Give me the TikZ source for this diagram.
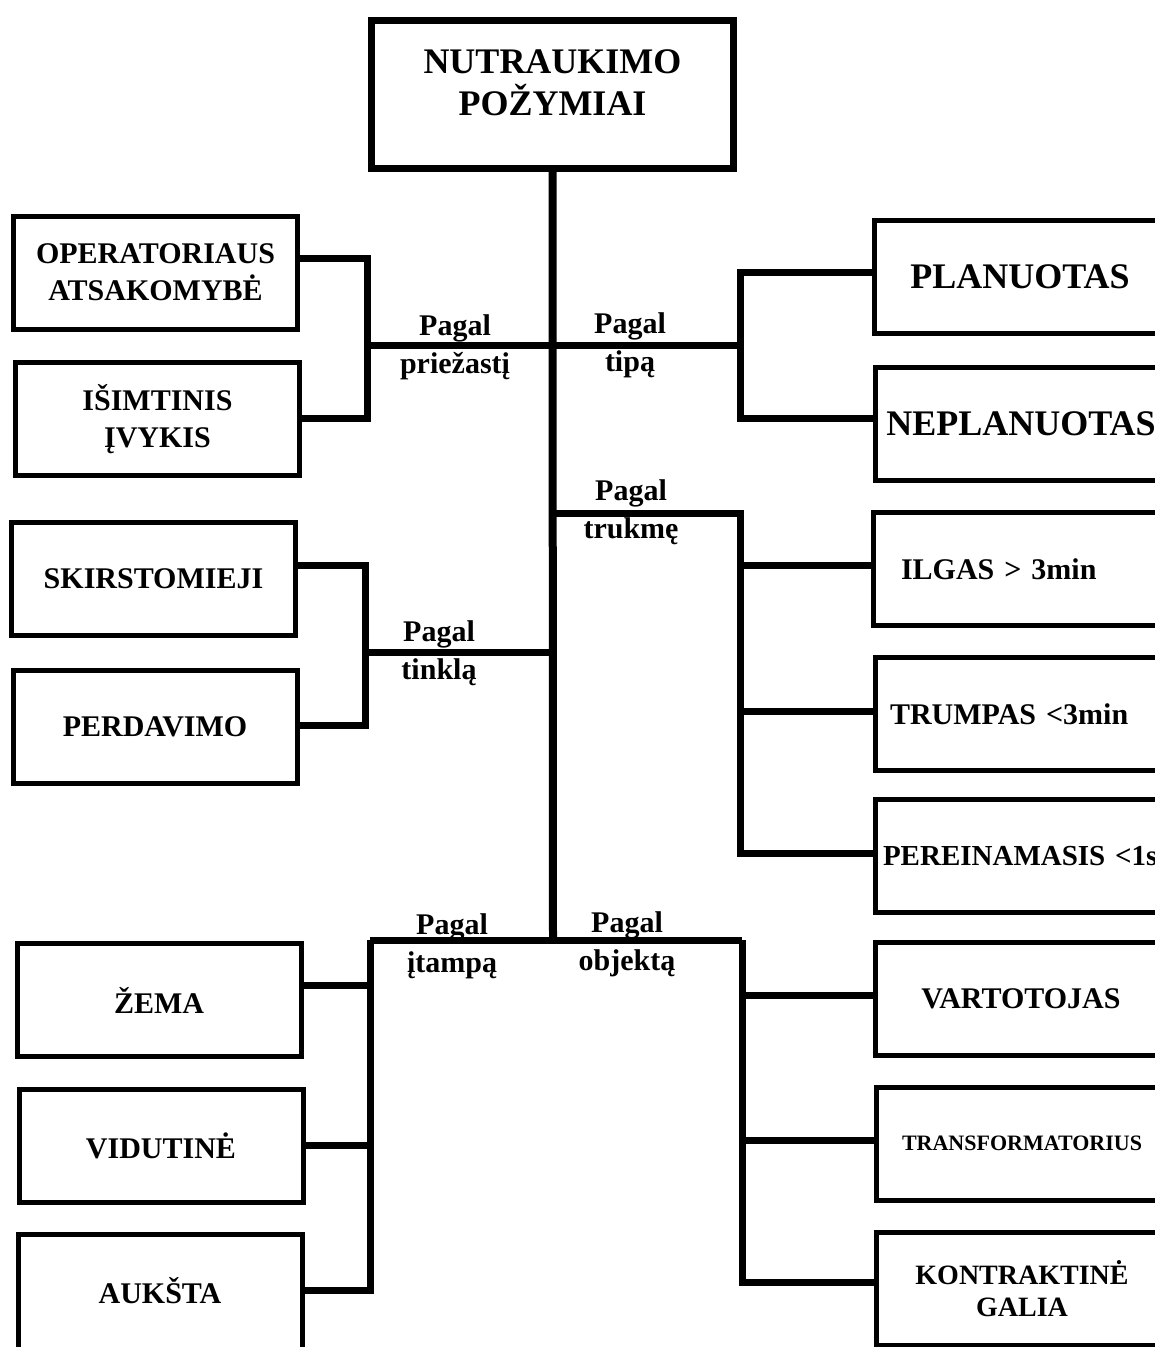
\documentclass[tikz,border=0pt]{standalone}
\usepackage{fontspec}
\setmainfont{Liberation Serif}
\newcommand\fsz[2]{\fontsize{#1}{#2}\selectfont\bfseries}
\begin{document}
\begin{tikzpicture}[x=1pt,y=-1pt,
  box/.style={draw, line width=5pt, minimum width=284pt, minimum height=113pt, inner sep=0pt, align=center, font=\fsz{30}{37}},
  rbox/.style={box, minimum width=292pt},
  lbl/.style={inner sep=0pt, align=center, font=\fsz{30}{38}},
  conn/.style={line width=7pt, line join=miter},
  trunk/.style={line width=8pt}]
\useasboundingbox (0,0) rectangle (1155,1347);
\fill[white] (0,0) rectangle (1155,1347);
\clip (0,0) rectangle (1155,1347);

% top
\node[draw, line width=7pt, minimum width=362pt, minimum height=148pt, align=center, text depth=23pt, font=\fsz{36}{42}] (top) at (552.5,94.5) {NUTRAUKIMO\\POŽYMIAI};

% left boxes
\node[box] (op) at (155.5,272.5) {OPERATORIAUS\\ATSAKOMYBĖ};
\node[box] (isim) at (157.5,419) {IŠIMTINIS\\ĮVYKIS};
\node[box] (skir) at (153.5,579) {SKIRSTOMIEJI};
\node[box] (perd) at (155,726.5) {PERDAVIMO};
\node[box] (zema) at (159,1000) {ŽEMA};
\node[box] (vid) at (161,1145.5) {VIDUTINĖ};
\node[box, minimum height=136pt, text depth=24pt] (auk) at (160,1302) {AUKŠTA};

% right boxes
\node[rbox, font=\fsz{36}{42}] (plan) at (1020,276.5) {PLANUOTAS};
\node[rbox, font=\fsz{36}{42}] (nepl) at (1021,423.5) {\mbox{NEPLANUOTAS}};
\node[rbox, align=left, inner xsep=27.5pt, text width=237pt] (ilgas) at (1019.5,569) {\mbox{ILGAS > 3min}};
\node[rbox, align=left, inner xsep=14.5pt, text width=263pt] (trum) at (1021.5,714) {\mbox{TRUMPAS <3min}};
\node[rbox, align=left, inner xsep=7.5pt, text width=277pt, font=\fsz{29}{34}] (per) at (1021.5,856) {\mbox{PEREINAMASIS <1s}};
\node[rbox] (vart) at (1021,998.5) {VARTOTOJAS};
\node[rbox, font=\fsz{22}{27}] (trans) at (1022,1143.5) {TRANSFORMATORIUS};
\node[rbox, font=\fsz{28}{32}] (kont) at (1022,1289) {KONTRAKTINĖ\\GALIA};

% junction coordinates
\coordinate (jA) at (553,345);
\coordinate (bA) at (367,345);
\coordinate (bB) at (740,345);
\coordinate (jC) at (553,513);
\coordinate (bC) at (740,513);
\coordinate (jD) at (553,652);
\coordinate (bD) at (365,652);
\coordinate (jE) at (553,940);
\coordinate (bE1) at (370,940);
\coordinate (bE2) at (742,940);

% trunk
\draw[trunk] (top.south) -- (jE);

% pagal priezasti / tipa
\draw[conn] (bA) -- (bB);
\draw[conn] (op.east |- 0,258) -| (bA) |- (isim.east |- 0,418);
\draw[conn] (plan.west |- 0,272) -| (bB) |- (nepl.west |- 0,418);

% pagal trukme
\draw[conn] (jC) -- (bC) |- (per.west |- 0,853);
\draw[conn] (ilgas.west |- 0,565) -| (bC);
\draw[conn] (trum.west |- 0,711) -| (bC);

% pagal tinkla
\draw[conn] (jD) -- (bD);
\draw[conn] (skir.east |- 0,565) -| (bD) |- (perd.east |- 0,725);

% pagal itampa / objekta
\draw[conn] (bE1) -- (bE2);
\draw[conn] (auk.east |- 0,1290) -| (bE1);
\draw[conn] (zema.east |- 0,985) -| (bE1);
\draw[conn] (vid.east |- 0,1145) -| (bE1);
\draw[conn] (kont.west |- 0,1282) -| (bE2);
\draw[conn] (vart.west |- 0,995) -| (bE2);
\draw[conn] (trans.west |- 0,1140) -| (bE2);

% labels
\node[lbl] (l1) at (455,347) {Pagal\\priežastį};
\node[lbl] (l2) at (630,345) {Pagal\\tipą};
\node[lbl] (l3) at (631,512) {Pagal\\trukmę};
\node[lbl] (l4) at (439,653) {Pagal\\tinklą};
\node[lbl] (l5) at (452,946) {Pagal\\įtampą};
\node[lbl] (l6) at (627,944) {Pagal\\objektą};
\end{tikzpicture}
\end{document}
